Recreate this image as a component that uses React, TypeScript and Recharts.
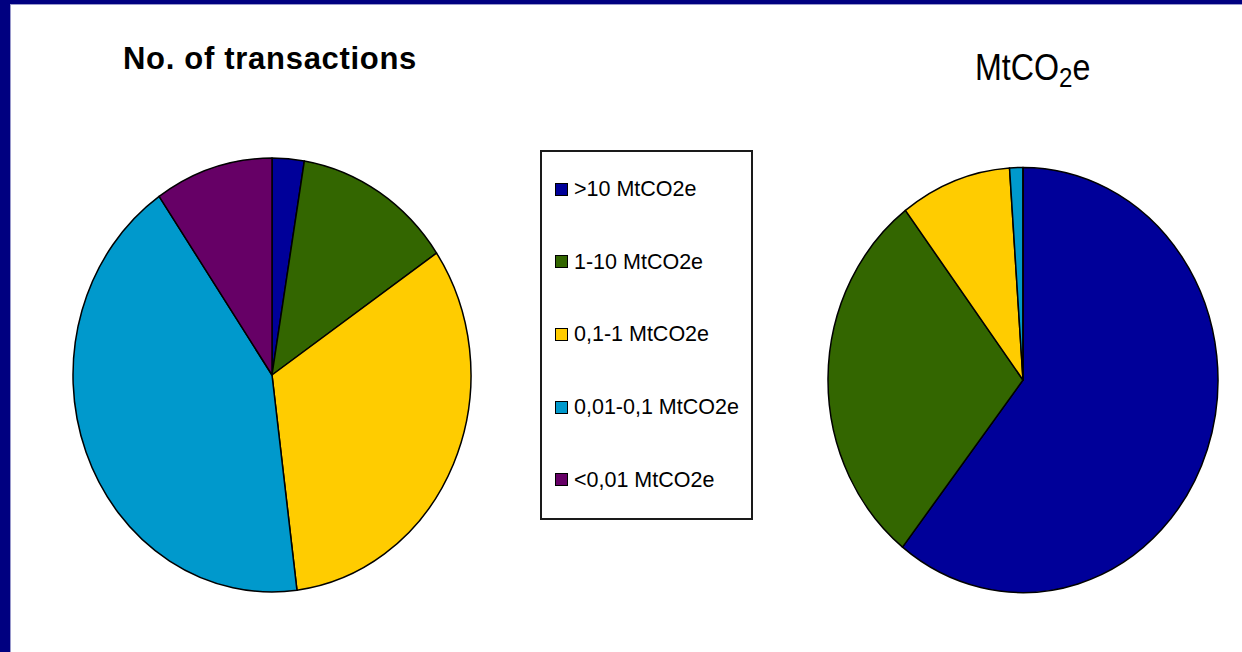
import React from "react";
import { PieChart, Pie, Cell } from "recharts";

const categories = [">10 MtCO2e", "1-10 MtCO2e", "0,1-1 MtCO2e", "0,01-0,1 MtCO2e", "<0,01 MtCO2e"];
const colors = ["#000099", "#336600", "#FFCC00", "#0099CC", "#660066"];
const transactionShares = [2.6, 12.9, 32.5, 42.4, 9.6];
const volumeShares = [60.6, 29.1, 9.2, 1.1, 0];

const transactionData = categories.map((name, i) => ({ name, value: transactionShares[i] }));
const volumeData = categories.map((name, i) => ({ name, value: volumeShares[i] }));

// the pies in the original are a bit taller than wide
const STRETCH = 1.09;
const FONT = '"Liberation Sans", Arial, sans-serif';

function EllipseSector(props: any) {
  const { cx, cy, outerRadius, startAngle, endAngle, fill } = props;
  const rx = outerRadius;
  const ry = outerRadius * STRETCH;
  const rad = Math.PI / 180;
  const x1 = cx + rx * Math.cos(startAngle * rad);
  const y1 = cy - ry * Math.sin(startAngle * rad);
  const x2 = cx + rx * Math.cos(endAngle * rad);
  const y2 = cy - ry * Math.sin(endAngle * rad);
  const large = Math.abs(endAngle - startAngle) > 180 ? 1 : 0;
  const sweep = endAngle < startAngle ? 1 : 0;
  const d = `M${cx},${cy} L${x1},${y1} A${rx},${ry} 0 ${large} ${sweep} ${x2},${y2} Z`;
  return <path d={d} fill={fill} stroke="#000" strokeWidth={1.5} strokeLinejoin="round" />;
}

function LegendBox() {
  return (
    <div
      style={{
        position: "absolute",
        left: 540,
        top: 150,
        width: 209,
        height: 366,
        border: "2px solid #1a1a1a",
        background: "#fff",
      }}
    >
      {categories.map((c, i) => (
        <div
          key={c}
          style={{
            position: "absolute",
            left: 13,
            top: 29 + i * 72.7,
            height: 16,
            display: "flex",
            alignItems: "center",
            whiteSpace: "nowrap",
          }}
        >
          <span
            style={{
              display: "inline-block",
              width: 11,
              height: 11,
              background: colors[i],
              border: "1px solid #000",
              marginRight: 6,
            }}
          />
          <span style={{ fontFamily: FONT, fontSize: 21.5, color: "#000", lineHeight: "16px" }}>{c}</span>
        </div>
      ))}
    </div>
  );
}

export default function App() {
  return (
    <div
      style={{
        position: "absolute",
        left: 0,
        top: 0,
        width: 1242,
        height: 652,
        background: "#fff",
        overflow: "hidden",
      }}
    >
      <div style={{ position: "absolute", left: 0, top: 0, width: 1242, height: 4, background: "#000080" }} />
      <div style={{ position: "absolute", left: 0, top: 4, width: 1242, height: 1, background: "#9a9acc" }} />
      <div style={{ position: "absolute", left: 0, top: 0, width: 10, height: 652, background: "#000080" }} />
      <div style={{ position: "absolute", left: 10, top: 4, width: 1, height: 648, background: "#9a9acc" }} />

      <div style={{ position: "absolute", left: 0, top: 0 }}>
        <PieChart width={1242} height={652} margin={{ top: 0, right: 0, bottom: 0, left: 0 }}>
          <Pie
            data={transactionData}
            dataKey="value"
            nameKey="name"
            cx={272}
            cy={375}
            innerRadius={0}
            outerRadius={199}
            startAngle={90}
            endAngle={-270}
            label={false}
            labelLine={false}
            shape={EllipseSector}
            inactiveShape={EllipseSector}
            activeShape={EllipseSector}
            isAnimationActive={false}
          >
            {transactionData.map((d, i) => (
              <Cell key={d.name} fill={colors[i]} />
            ))}
          </Pie>
          <Pie
            data={volumeData}
            dataKey="value"
            nameKey="name"
            cx={1023}
            cy={380}
            innerRadius={0}
            outerRadius={195}
            startAngle={90}
            endAngle={-270}
            label={false}
            labelLine={false}
            shape={EllipseSector}
            inactiveShape={EllipseSector}
            activeShape={EllipseSector}
            isAnimationActive={false}
          >
            {volumeData.map((d, i) => (
              <Cell key={d.name} fill={colors[i]} />
            ))}
          </Pie>
        </PieChart>
      </div>

      <div
        style={{
          position: "absolute",
          left: 123,
          top: 43,
          fontFamily: FONT,
          fontSize: 31,
          fontWeight: "bold",
          lineHeight: "31px",
          letterSpacing: 0.7,
          whiteSpace: "nowrap",
          color: "#000",
        }}
      >
        No. of transactions
      </div>

      <div
        style={{
          position: "absolute",
          left: 975,
          top: 50,
          fontFamily: FONT,
          fontSize: 35,
          lineHeight: "35px",
          whiteSpace: "nowrap",
          color: "#000",
          transform: "scale(0.92, 1.05)",
          transformOrigin: "0 29.6px",
        }}
      >
        MtCO<span style={{ fontSize: "0.75em", position: "relative", top: 7 }}>2</span>e
      </div>

      <LegendBox />
    </div>
  );
}
